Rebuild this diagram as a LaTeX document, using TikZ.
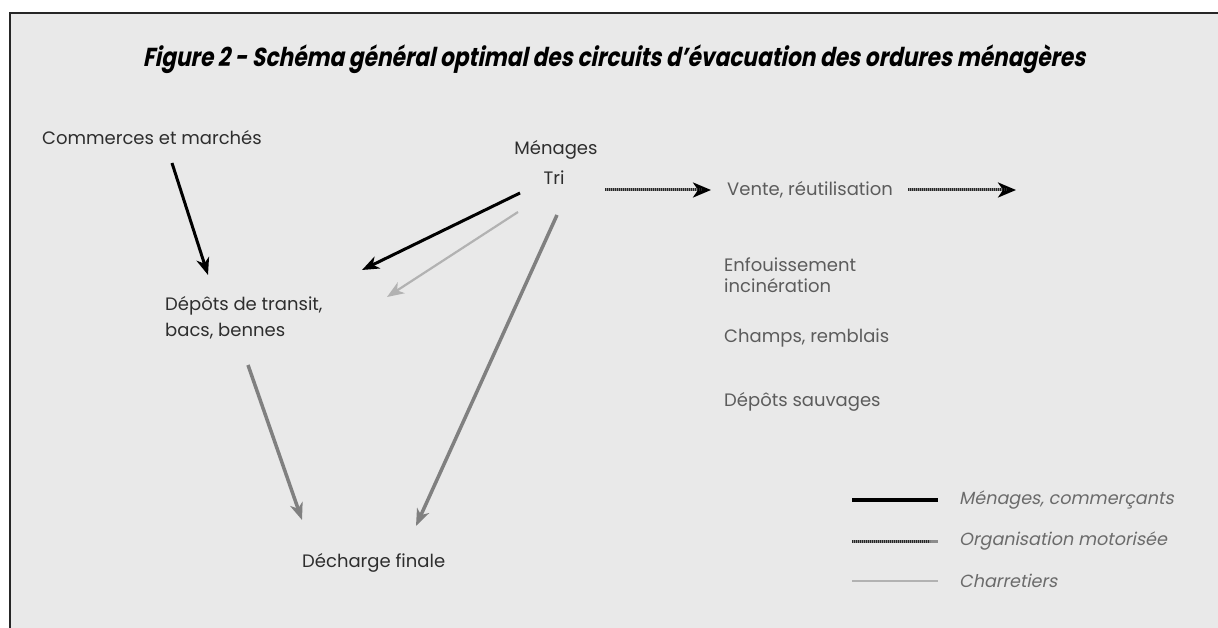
\documentclass[tikz,border=0pt]{standalone}
\usepackage{fontspec}
\setmainfont{Poppins}
\newfontfamily\titlefont{Poppins}[FakeSlant=0.2,FakeStretch=0.835]
\newfontfamily\legfont{Poppins}[FakeSlant=0.2]
\usetikzlibrary{arrows.meta,calc}
\definecolor{panel}{HTML}{E9E9E9}
\begin{document}
\begin{tikzpicture}[x=1pt,y=-1pt,
  lbl/.style={inner sep=0pt, anchor=west, font=\fontsize{18}{22}\selectfont, text=black!82},
  rlbl/.style={lbl, text=black!64},
  leg/.style={inner sep=0pt, anchor=west, font=\legfont\fontsize{17.6}{20}\selectfont, text=black!58},
  tipblk/.style={-{Stealth[length=17pt,width=13pt,inset=5pt]}},
  blk/.style={line width=3pt, black, tipblk},
  mot/.style={line width=3.5pt, black!50, tipblk},
  chr/.style={line width=2.2pt, black!30, tipblk},
  hatch/.style={line width=3pt, black!45, postaction={draw, -, black!85, line width=3pt, dash pattern=on 0.9pt off 1.1pt, shorten >=8pt}},
  hatcharrow/.style={hatch, -{Stealth[length=18pt,width=15pt,inset=5pt,black]}}
]
\useasboundingbox (0,0) rectangle (1218,628);
\fill[white] (0,0) rectangle (1218,628);
\fill[panel] (10,13) rectangle (1218,628);
\draw[line width=1.4pt, black!85] (1218,13) -- (10,13) -- (10,628);

% title
\node[inner sep=0pt, font=\titlefont\bfseries\fontsize{26}{30}\selectfont] (title) at (614,59)
  {Figure 2 - Schéma général optimal des circuits d’évacuation des ordures ménagères};

% nodes
\node[lbl] (com) at (42,138) {Commerces et marchés};
\node[lbl, anchor=center] (men) at (556,150) {Ménages};
\node[lbl, anchor=center] (tri) at (554,178) {Tri};
\node[rlbl] (vente) at (727,190) {Vente, réutilisation};
\node[rlbl] (enf) at (724,265) {Enfouissement};
\node[rlbl] (inc) at (724,286) {incinération};
\node[rlbl] (champs) at (724,338) {Champs, remblais};
\node[rlbl] (sauv) at (724,402) {Dépôts sauvages};
\node[lbl] (dep) at (165,306) {Dépôts de transit,};
\node[lbl] (bacs) at (165,331) {bacs, bennes};
\node[lbl] (dech) at (302,563) {Décharge finale};

% connector end points
\coordinate (comOut) at (172,163);
\coordinate (depInA) at (208,275);
\coordinate (triOutA) at (520,193);
\coordinate (depInB) at (362,270);
\coordinate (triOutB) at (518,212);
\coordinate (depInC) at (387,297);
\coordinate (triOutC) at (557,215);
\coordinate (dechInA) at (416,526);
\coordinate (bacsOut) at (248,365);
\coordinate (dechInB) at (302,520);
\coordinate (triOutD) at (605,190);
\coordinate (venteIn) at (711,190);
\coordinate (venteOut) at (908,190);
\coordinate (venteEnd) at (1016,190);

\draw[blk] (comOut) -- (depInA);
\draw[blk] (triOutA) -- (depInB);
\draw[chr] (triOutB) -- (depInC);
\draw[mot] (triOutC) -- (dechInA);
\draw[mot] (bacsOut) -- (dechInB);
\draw[hatcharrow] (triOutD) -- (venteIn);
\draw[hatcharrow] (venteOut) -- (venteEnd);

% legend
\coordinate (l1a) at (852,500); \coordinate (l1b) at (938,500);
\coordinate (l2a) at (852,541); \coordinate (l2b) at (938,541);
\coordinate (l3a) at (852,581); \coordinate (l3b) at (938,581);
\draw[line width=3.5pt, black] (l1a) -- (l1b);
\draw[hatch] (l2a) -- (l2b);
\draw[line width=2.2pt, black!30] (l3a) -- (l3b);
\node[leg] (lg1) at (959,500) {Ménages, commerçants};
\node[leg] (lg2) at (959,541) {Organisation motorisée};
\node[leg] (lg3) at (959,581) {Charretiers};
\end{tikzpicture}
\end{document}
